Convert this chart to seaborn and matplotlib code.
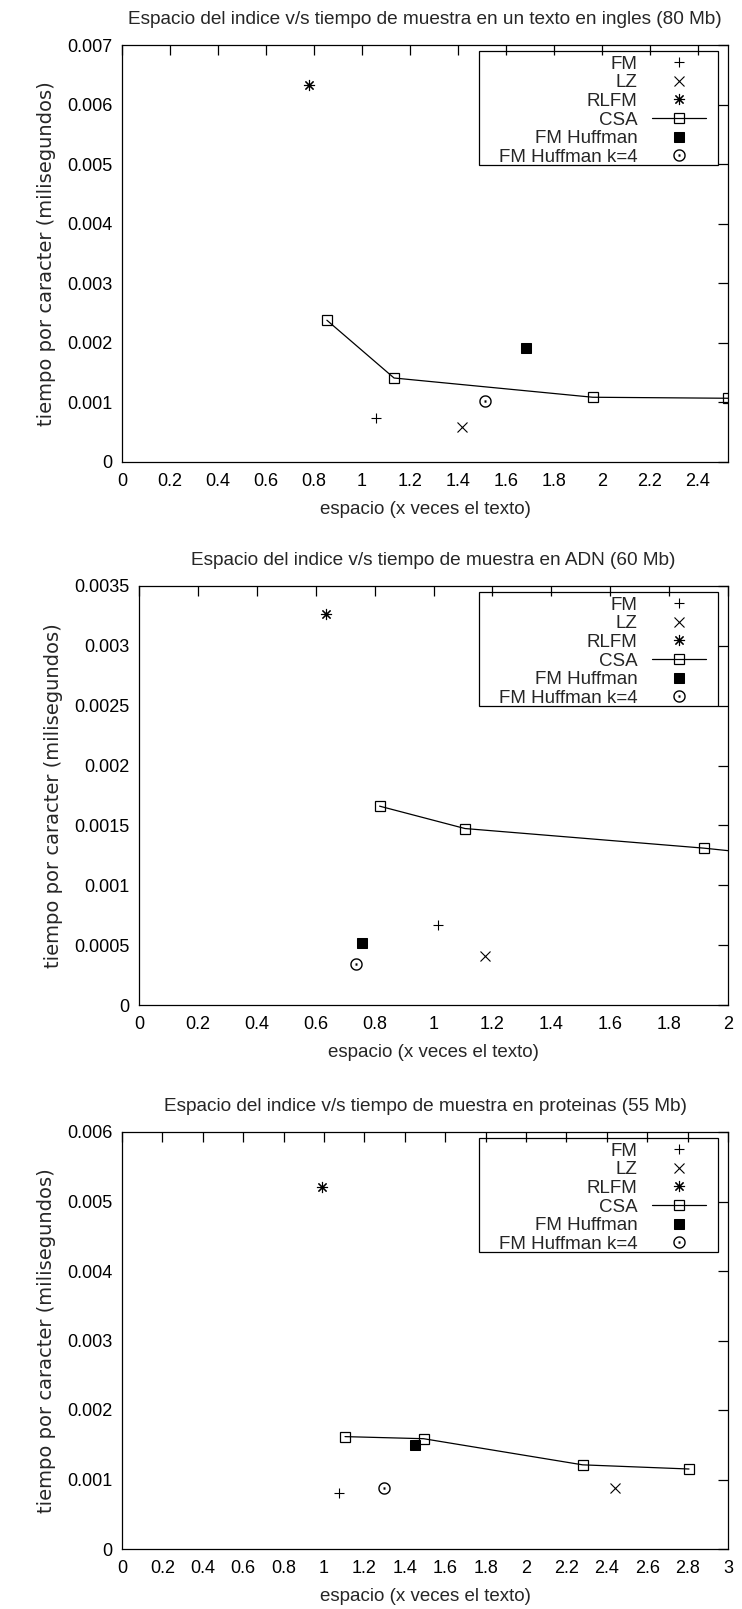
import numpy as np
import pandas as pd
import seaborn as sns
import matplotlib.pyplot as plt
from matplotlib.patches import Rectangle

# english text (80 Mb)
ing_fm_x, ing_fm_y = [1.057], [0.000747]
ing_lz_x, ing_lz_y = [1.419], [0.000583]
ing_rlfm_x, ing_rlfm_y = [0.78], [0.00633]
ing_csa_x = [0.854, 1.134, 1.962, 2.526]
ing_csa_y = [0.00238, 0.00141, 0.001087, 0.00107]
ing_huff_x, ing_huff_y = [1.682], [0.001907]
ing_k4_x, ing_k4_y = [1.514], [0.00103]

# ADN (60 Mb)
adn_fm_x, adn_fm_y = [1.015], [0.000665]
adn_lz_x, adn_lz_y = [1.174], [0.00041]
adn_rlfm_x, adn_rlfm_y = [0.634], [0.003268]
adn_csa_x = [0.817, 1.107, 1.919, 2.35]
adn_csa_y = [0.001661, 0.001474, 0.00131, 0.0012]
adn_huff_x, adn_huff_y = [0.758], [0.000518]
adn_k4_x, adn_k4_y = [0.737], [0.000342]

# proteinas (55 Mb)
pro_fm_x, pro_fm_y = [1.076], [0.0008]
pro_lz_x, pro_lz_y = [2.443], [0.000876]
pro_rlfm_x, pro_rlfm_y = [0.99], [0.005205]
pro_csa_x = [1.104, 1.493, 2.28, 2.807]
pro_csa_y = [0.001617, 0.001587, 0.001211, 0.001151]
pro_huff_x, pro_huff_y = [1.449], [0.0015]
pro_k4_x, pro_k4_y = [1.295], [0.000871]

sns.set_theme(style='white')
plt.rcParams['font.family'] = ['Liberation Sans', 'DejaVu Sans']

W, H = 742, 1609
fig = plt.figure(figsize=(W / 100, H / 100), dpi=100)


def make_ax(left, right, top, bottom):
    return fig.add_axes([left / W, 1 - bottom / H, (right - left) / W, (bottom - top) / H])


def panel(ax, top, d, title, xlim, ylim, xticks, yticks):
    k = dict(ax=ax, color='black', estimator=None, sort=False)
    sns.lineplot(x=d['fm'][0], y=d['fm'][1], marker='+', linestyle='none', markersize=7.5,
                 markeredgecolor='black', markeredgewidth=0.8, label='FM', **k)
    sns.lineplot(x=d['lz'][0], y=d['lz'][1], marker='x', linestyle='none', markersize=6.5,
                 markeredgecolor='black', markeredgewidth=0.8, label='LZ', **k)
    sns.lineplot(x=d['rlfm'][0], y=d['rlfm'][1], marker=(8, 2, 0), linestyle='none', markersize=8,
                 markeredgecolor='black', markeredgewidth=0.8, label='RLFM', **k)
    sns.lineplot(x=d['csa'][0], y=d['csa'][1], marker='s', markersize=7.5, markerfacecolor='none',
                 markeredgecolor='black', markeredgewidth=0.9, linewidth=0.9, label='CSA', **k)
    sns.lineplot(x=d['huff'][0], y=d['huff'][1], marker='s', linestyle='none', markersize=6.5,
                 markerfacecolor='black', markeredgecolor='black', label='FM Huffman', **k)
    sns.lineplot(x=d['k4'][0], y=d['k4'][1], marker=r'$\odot$', linestyle='none', markersize=9,
                 markeredgecolor='black', markeredgewidth=0, label='FM Huffman k=4', **k)

    ax.set_xlim(*xlim)
    ax.set_ylim(*ylim)
    ax.set_xticks(xticks)
    ax.set_yticks(yticks)
    ax.set_xticklabels([f'{v:g}' for v in xticks])
    ax.set_yticklabels([f'{v:g}' for v in yticks])
    ax.tick_params(direction='in', top=True, right=True, length=7, width=0.9,
                   labelsize=13, colors='black')
    ax.tick_params(axis='x', pad=8)
    ax.tick_params(axis='y', pad=7)
    for s in ax.spines.values():
        s.set_color('black')
        s.set_linewidth(0.9)
    ax.set_title(title, fontsize=13.7, pad=15)
    ax.set_xlabel('espacio (x veces el texto)', fontsize=13.5, labelpad=8)
    ax.set_ylabel('tiempo por caracter (milisegundos)', fontsize=14, labelpad=8,
                  family='DejaVu Sans')

    # gnuplot style key: labels right aligned, samples on the right
    leg = ax.legend(loc='upper right', bbox_to_anchor=(706 / W, 1 - (top + 10.5) / H),
                    bbox_transform=fig.transFigure, borderaxespad=0, borderpad=0,
                    markerfirst=False, frameon=False, fontsize=13.5, handlelength=2.9,
                    handletextpad=0.75, labelspacing=0.083)
    fig.canvas.draw()
    bb = leg.get_window_extent()
    x0, x1 = bb.x0 - 20, 718
    y1 = H - (top + 6)
    y0 = bb.y0 + 1
    fig.add_artist(Rectangle((x0 / W, y0 / H), (x1 - x0) / W, (y1 - y0) / H,
                             transform=fig.transFigure, fill=False, ec='black', lw=0.9))


ax1 = make_ax(122, 728, 45, 462)
panel(ax1, 45, dict(fm=(ing_fm_x, ing_fm_y), lz=(ing_lz_x, ing_lz_y), rlfm=(ing_rlfm_x, ing_rlfm_y),
                    csa=(ing_csa_x, ing_csa_y), huff=(ing_huff_x, ing_huff_y), k4=(ing_k4_x, ing_k4_y)),
      'Espacio del indice v/s tiempo de muestra en un texto en ingles (80 Mb)',
      (0, 2.526), (0, 0.007), np.arange(0, 2.41, 0.2).round(1), np.arange(0, 0.0071, 0.001).round(3))

ax2 = make_ax(139, 728, 586, 1005)
panel(ax2, 586, dict(fm=(adn_fm_x, adn_fm_y), lz=(adn_lz_x, adn_lz_y), rlfm=(adn_rlfm_x, adn_rlfm_y),
                     csa=(adn_csa_x, adn_csa_y), huff=(adn_huff_x, adn_huff_y), k4=(adn_k4_x, adn_k4_y)),
      'Espacio del indice v/s tiempo de muestra en ADN (60 Mb)',
      (0, 2), (0, 0.0035), np.arange(0, 2.01, 0.2).round(1), np.arange(0, 0.00351, 0.0005).round(4))

ax3 = make_ax(122, 728, 1132, 1549)
panel(ax3, 1132, dict(fm=(pro_fm_x, pro_fm_y), lz=(pro_lz_x, pro_lz_y), rlfm=(pro_rlfm_x, pro_rlfm_y),
                      csa=(pro_csa_x, pro_csa_y), huff=(pro_huff_x, pro_huff_y), k4=(pro_k4_x, pro_k4_y)),
      'Espacio del indice v/s tiempo de muestra en proteinas (55 Mb)',
      (0, 3), (0, 0.006), np.arange(0, 3.01, 0.2).round(1), np.arange(0, 0.0061, 0.001).round(3))

fig.savefig('out.png', dpi=100)
